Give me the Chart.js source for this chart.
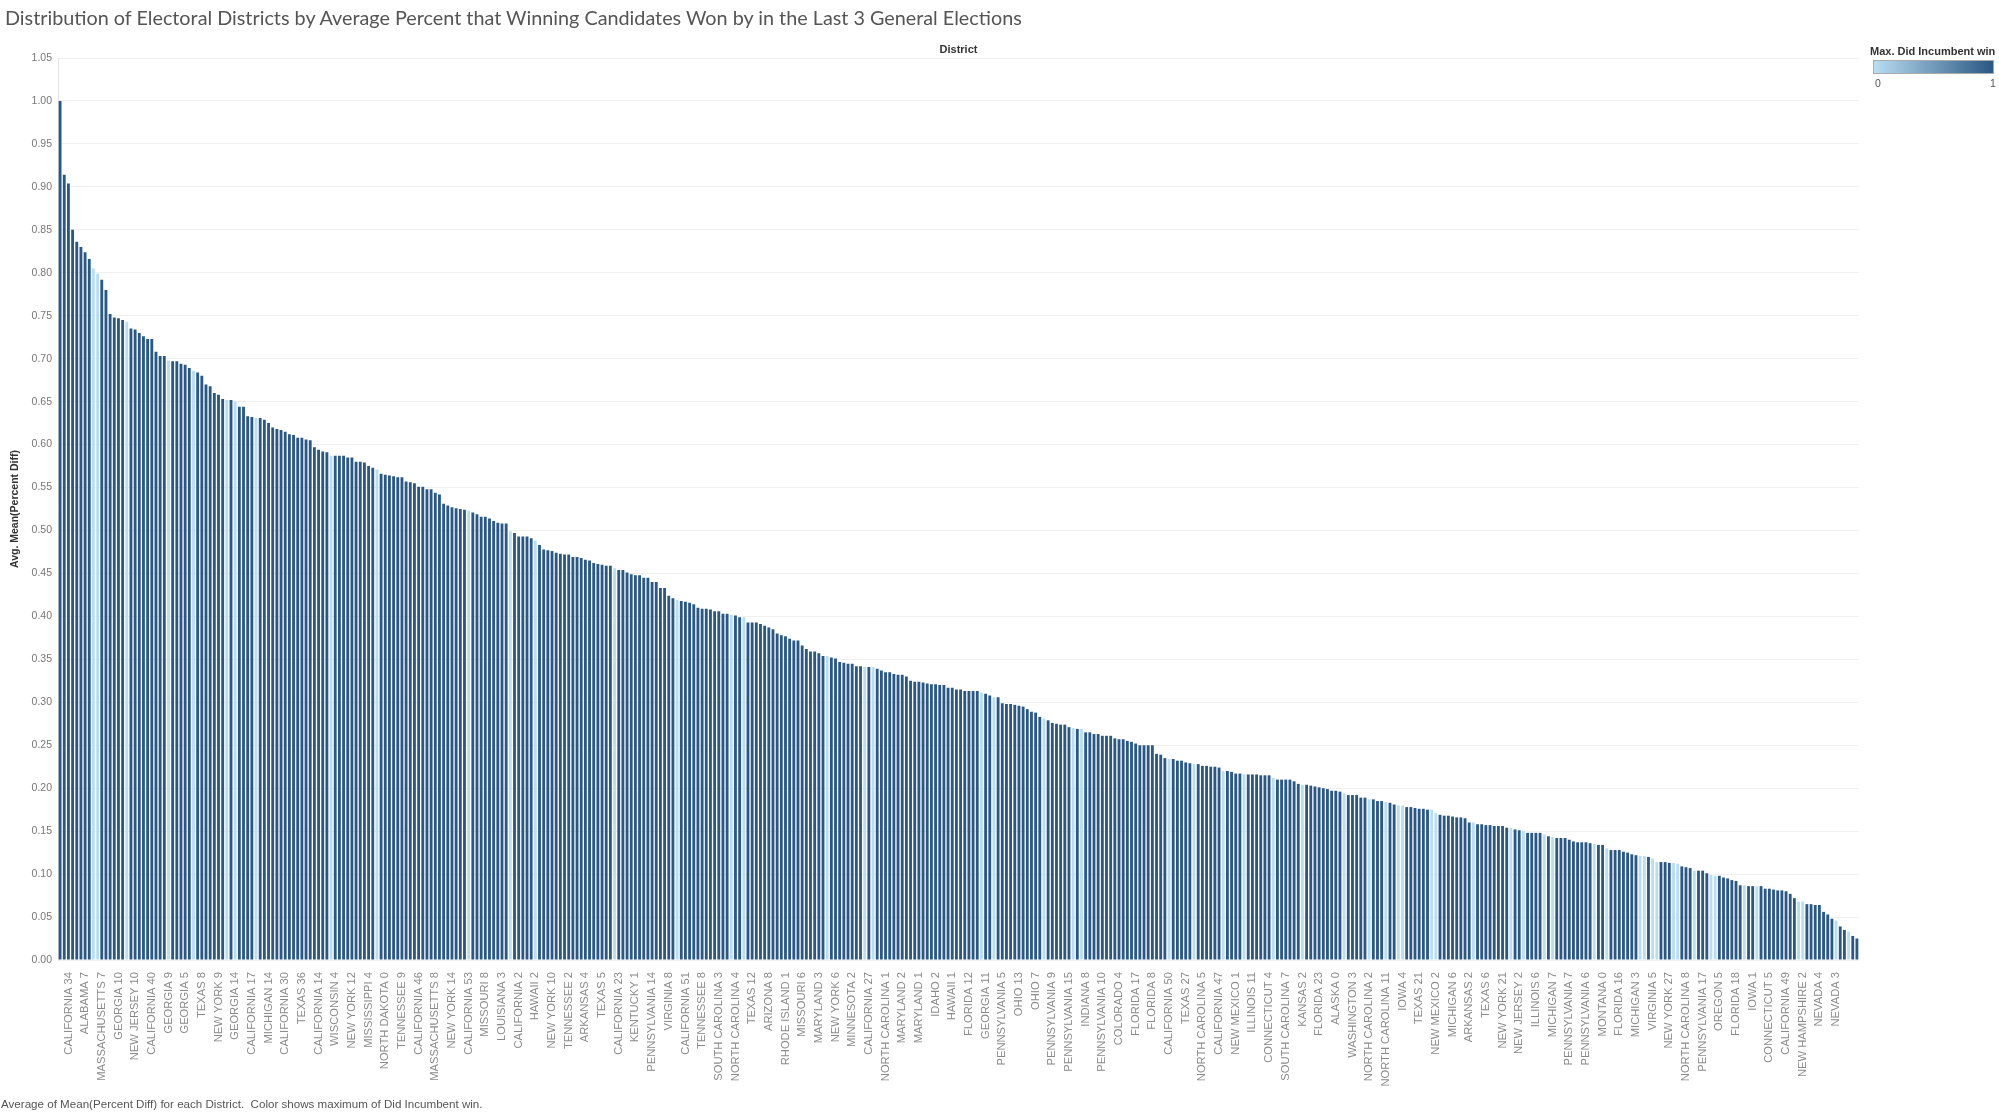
<!DOCTYPE html>
<html lang="en">
<head>
  <meta charset="UTF-8">
  <script src="https://cdn.jsdelivr.net/npm/chart.js"></script>
  <title>Distribution of Electoral Districts</title>
  <style>
    body{margin:0; background:#fff; font-family:"Liberation Sans", Arial, sans-serif;}
    #wrap{position:relative; width:1999px; height:1114px; overflow:hidden;}
    #title{position:absolute; left:5px; top:5px; font-family:Lato, "Open Sans", sans-serif; font-size:19.8px; color:#555; white-space:nowrap;}
    #colHead{position:absolute; left:0; width:1917px; top:43px; text-align:center; font-size:11px; font-weight:bold; color:#333;}
    #legend{position:absolute; left:1870px; top:45px; width:126px; font-size:11px; color:#333;}
    #legend .lt{font-weight:bold; white-space:nowrap;}
    #legend .bar{margin:3px 0 0 3px; width:121px; height:14px; border:1px solid #aaa; box-sizing:border-box;
      background:linear-gradient(to right, #b9ddf1, #2a5783);}
    #legend .ends{position:relative; height:14px; color:#555; font-size:10.5px;}
    #legend .ends span{position:absolute; top:3px;}
    #footer{position:absolute; left:1px; top:1097px; font-size:11.6px; color:#555; white-space:nowrap;}
    canvas{position:absolute; left:0; top:0;}
  </style>
</head>
<body>
<div id="wrap">
  <canvas id="myChart" width="1999" height="1114"></canvas>
  <div id="title">Distribution of Electoral Districts by Average Percent that Winning Candidates Won by in the Last 3 General Elections</div>
  <div id="colHead">District</div>
  <div id="legend">
    <div class="lt">Max. Did Incumbent win</div>
    <div class="bar"></div>
    <div class="ends"><span style="left:5px">0</span><span style="left:120px">1</span></div>
  </div>
  <div id="footer">Average of Mean(Percent Diff) for each District.&nbsp; Color shows maximum of Did Incumbent win.</div>
</div>
<script>
  // district names that are printed under the axis (every 4th bar, from the 3rd)
  const shownDistricts = [
    'CALIFORNIA 34','ALABAMA 7','MASSACHUSETTS 7','GEORGIA 10','NEW JERSEY 10','CALIFORNIA 40','GEORGIA 9','GEORGIA 5',
    'TEXAS 8','NEW YORK 9','GEORGIA 14','CALIFORNIA 17','MICHIGAN 14','CALIFORNIA 30','TEXAS 36','CALIFORNIA 14',
    'WISCONSIN 4','NEW YORK 12','MISSISSIPPI 4','NORTH DAKOTA 0','TENNESSEE 9','CALIFORNIA 46','MASSACHUSETTS 8','NEW YORK 14',
    'CALIFORNIA 53','MISSOURI 8','LOUISIANA 3','CALIFORNIA 2','HAWAII 2','NEW YORK 10','TENNESSEE 2','ARKANSAS 4',
    'TEXAS 5','CALIFORNIA 23','KENTUCKY 1','PENNSYLVANIA 14','VIRGINIA 8','CALIFORNIA 51','TENNESSEE 8','SOUTH CAROLINA 3',
    'NORTH CAROLINA 4','TEXAS 12','ARIZONA 8','RHODE ISLAND 1','MISSOURI 6','MARYLAND 3','NEW YORK 6','MINNESOTA 2',
    'CALIFORNIA 27','NORTH CAROLINA 1','MARYLAND 2','MARYLAND 1','IDAHO 2','HAWAII 1','FLORIDA 12','GEORGIA 11',
    'PENNSYLVANIA 5','OHIO 13','OHIO 7','PENNSYLVANIA 9','PENNSYLVANIA 15','INDIANA 8','PENNSYLVANIA 10','COLORADO 4',
    'FLORIDA 17','FLORIDA 8','CALIFORNIA 50','TEXAS 27','NORTH CAROLINA 5','CALIFORNIA 47','NEW MEXICO 1','ILLINOIS 11',
    'CONNECTICUT 4','SOUTH CAROLINA 7','KANSAS 2','FLORIDA 23','ALASKA 0','WASHINGTON 3','NORTH CAROLINA 2','NORTH CAROLINA 11',
    'IOWA 4','TEXAS 21','NEW MEXICO 2','MICHIGAN 6','ARKANSAS 2','TEXAS 6','NEW YORK 21','NEW JERSEY 2',
    'ILLINOIS 6','MICHIGAN 7','PENNSYLVANIA 7','PENNSYLVANIA 6','MONTANA 0','FLORIDA 16','MICHIGAN 3','VIRGINIA 5',
    'NEW YORK 27','NORTH CAROLINA 8','PENNSYLVANIA 17','OREGON 5','FLORIDA 18','IOWA 1','CONNECTICUT 5','CALIFORNIA 49',
    'NEW HAMPSHIRE 2','NEVADA 4','NEVADA 3'
  ];

  // Avg. Mean(Percent Diff), one per district, sorted descending
  const meanPercentDiff = [
    1.000,0.914,0.904,0.850,0.836,0.830,0.824,0.816,0.805,0.799,
    0.792,0.780,0.752,0.748,0.747,0.745,0.743,0.735,0.734,0.730,
    0.726,0.723,0.723,0.708,0.703,0.703,0.698,0.697,0.697,0.694,
    0.693,0.689,0.686,0.684,0.680,0.670,0.668,0.660,0.658,0.653,
    0.652,0.652,0.650,0.644,0.644,0.633,0.632,0.631,0.631,0.629,
    0.625,0.620,0.618,0.617,0.615,0.612,0.611,0.608,0.608,0.606,
    0.605,0.597,0.594,0.592,0.591,0.587,0.587,0.587,0.587,0.585,
    0.585,0.580,0.580,0.579,0.575,0.573,0.571,0.566,0.565,0.564,
    0.563,0.562,0.562,0.557,0.556,0.555,0.551,0.551,0.548,0.548,
    0.544,0.542,0.531,0.529,0.527,0.526,0.525,0.524,0.523,0.521,
    0.519,0.516,0.516,0.514,0.511,0.509,0.508,0.508,0.499,0.497,
    0.493,0.493,0.493,0.491,0.488,0.483,0.478,0.477,0.476,0.474,
    0.473,0.472,0.472,0.469,0.469,0.468,0.466,0.465,0.462,0.461,
    0.460,0.459,0.459,0.456,0.454,0.454,0.451,0.449,0.448,0.448,
    0.445,0.445,0.440,0.440,0.433,0.433,0.424,0.421,0.419,0.418,
    0.417,0.416,0.414,0.410,0.409,0.409,0.408,0.406,0.406,0.403,
    0.403,0.402,0.401,0.399,0.399,0.393,0.393,0.393,0.391,0.389,
    0.387,0.385,0.380,0.378,0.377,0.374,0.372,0.372,0.366,0.362,
    0.359,0.359,0.357,0.354,0.354,0.352,0.351,0.347,0.346,0.345,
    0.345,0.342,0.342,0.341,0.341,0.341,0.339,0.337,0.335,0.335,
    0.333,0.332,0.332,0.330,0.325,0.324,0.324,0.323,0.322,0.321,
    0.321,0.320,0.320,0.317,0.317,0.315,0.315,0.313,0.313,0.313,
    0.313,0.311,0.310,0.308,0.306,0.306,0.299,0.298,0.298,0.297,
    0.296,0.295,0.292,0.289,0.288,0.283,0.281,0.279,0.276,0.275,
    0.274,0.274,0.271,0.270,0.269,0.269,0.265,0.265,0.263,0.263,
    0.261,0.261,0.261,0.258,0.257,0.257,0.255,0.254,0.252,0.250,
    0.250,0.250,0.250,0.240,0.239,0.235,0.234,0.234,0.232,0.232,
    0.230,0.229,0.228,0.228,0.226,0.226,0.225,0.225,0.224,0.220,
    0.220,0.219,0.217,0.217,0.216,0.216,0.216,0.216,0.215,0.215,
    0.215,0.212,0.210,0.210,0.210,0.210,0.208,0.205,0.204,0.204,
    0.203,0.202,0.201,0.200,0.199,0.197,0.197,0.196,0.194,0.192,
    0.192,0.192,0.189,0.189,0.187,0.187,0.185,0.185,0.184,0.183,
    0.181,0.180,0.180,0.178,0.178,0.177,0.176,0.176,0.175,0.175,
    0.171,0.169,0.168,0.168,0.167,0.166,0.166,0.165,0.160,0.160,
    0.158,0.158,0.157,0.157,0.156,0.156,0.156,0.154,0.154,0.152,
    0.151,0.150,0.148,0.148,0.148,0.148,0.146,0.144,0.143,0.142,
    0.142,0.142,0.140,0.138,0.137,0.137,0.137,0.136,0.135,0.134,
    0.134,0.130,0.128,0.128,0.128,0.126,0.125,0.123,0.122,0.121,
    0.121,0.120,0.118,0.114,0.114,0.114,0.113,0.113,0.112,0.109,
    0.108,0.107,0.104,0.104,0.104,0.101,0.099,0.098,0.098,0.096,
    0.095,0.093,0.092,0.087,0.087,0.086,0.086,0.086,0.086,0.083,
    0.083,0.082,0.081,0.081,0.080,0.077,0.072,0.068,0.068,0.065,
    0.065,0.064,0.064,0.056,0.053,0.048,0.046,0.039,0.035,0.033,
    0.028,0.025
  ];

  // Max. Did Incumbent win (0 / 1), same order
  const incumbentWin = [
    1,1,1,1,1,1,1,1,0,0, 1,1,1,1,1,1,0,1,1,1, 1,1,1,1,1,1,0,1,1,1, 1,1,0,1,1,1,1,1,1,1,
    0,1,0,1,1,1,1,0,1,1, 1,1,1,1,1,1,1,1,1,1, 1,1,1,1,1,0,1,1,1,1, 1,1,1,1,1,1,0,1,1,1,
    1,1,1,1,1,1,1,1,1,1, 1,1,1,1,1,1,1,1,0,1, 1,1,1,1,1,1,1,1,0,1, 1,1,1,1,0,1,1,1,1,1,
    1,1,1,1,1,1,1,1,1,1, 1,1,1,0,1,1,1,1,1,1, 1,1,1,1,1,1,1,1,0,1, 1,1,1,1,1,1,1,1,1,1,
    1,0,1,1,0,1,1,1,1,1, 1,1,1,1,1,1,1,1,1,1, 1,1,1,1,0,1,1,1,1,1, 1,1,1,0,1,0,1,1,1,1,
    1,1,1,1,1,1,1,1,1,1, 1,1,1,1,1,1,1,1,1,1, 1,0,1,1,0,1,1,1,1,1, 1,1,1,1,1,1,0,1,1,1,
    1,1,1,0,1,0,1,1,1,1, 1,1,1,1,1,1,1,1,1,1, 1,1,1,1,1,1,0,1,1,1, 1,1,0,1,1,1,1,1,1,0,
    1,1,1,1,0,1,1,1,1,1, 1,0,1,1,1,1,1,1,0,1, 1,1,1,1,1,1,1,1,0,1, 1,1,1,1,0,1,1,1,0,1,
    1,0,0,1,1,1,1,1,1,0, 0,1,1,1,1,1,1,1,1,0, 1,1,1,1,1,1,1,1,0,1, 1,0,1,1,1,1,0,1,0,1,
    1,1,1,1,1,1,1,1,0,1, 1,0,1,1,1,1,1,1,1,0, 0,1,0,0,1,1,1,0,0,1, 1,1,0,1,1,1,0,0,1,1,
    1,1,1,1,0,1,1,0,1,1, 1,1,1,1,1,1,1,0,0,1, 1,1,1,1,1,1,0,1,1,0, 1,1
  ];

  const yTicks = [0, 1.05, 0.05];   // min, max, step

  const LIGHT = '#b9ddf1';
  const DARK = '#2a5783';

  // category list: every bar gets a slot, only the printed names are filled in
  let categories = [];
  for(let i=0;i<meanPercentDiff.length;i++){
    let k = (i-2)/4;
    categories.push((i>=2 && Number.isInteger(k) && shownDistricts[k]) ? shownDistricts[k] : '');
  }

  const fontFam = '"Liberation Sans", Arial, sans-serif';

  new Chart(document.getElementById('myChart'), {
    type: 'bar',
    data: {
      labels: categories,
      datasets: [{
        label: 'Avg. Mean(Percent Diff)',
        data: meanPercentDiff,
        backgroundColor: incumbentWin.map(v => v ? DARK : LIGHT),
        borderWidth: 0,
        barPercentage: 0.68,
        categoryPercentage: 1
      }]
    },
    options: {
      responsive: false,
      animation: false,
      layout: {padding: {top:58, right:140, bottom:0, left:0}},
      plugins: {legend:{display:false}, tooltip:{enabled:false}},
      scales: {
        x: {
          grid: {display:false},
          border: {display:false},
          ticks: {
            autoSkip: false, minRotation: 90, maxRotation: 90, padding: 4,
            color: '#8a8a8a', font: {family:fontFam, size:11.2},
            callback: (v, i) => categories[i] || null
          },
          afterFit: s => { s.height = 154; }
        },
        y: {
          min: yTicks[0], max: yTicks[1],
          ticks: {stepSize: yTicks[2], color:'#777', font: {family:fontFam, size:10.5}, padding: 6,
            callback: v => Number(v).toFixed(2)},
          grid: {color:'#f0f0f0', drawTicks:false},
          border: {color:'#e4e4e4'},
          title: {display:true, text:'Avg. Mean(Percent Diff)', color:'#333',
            font:{family:fontFam, size:10.5, weight:'bold'}, padding:{top:9, bottom:0}},
          afterFit: s => { s.width = 58; }
        }
      }
    }
  });
</script>
</body>
</html>
